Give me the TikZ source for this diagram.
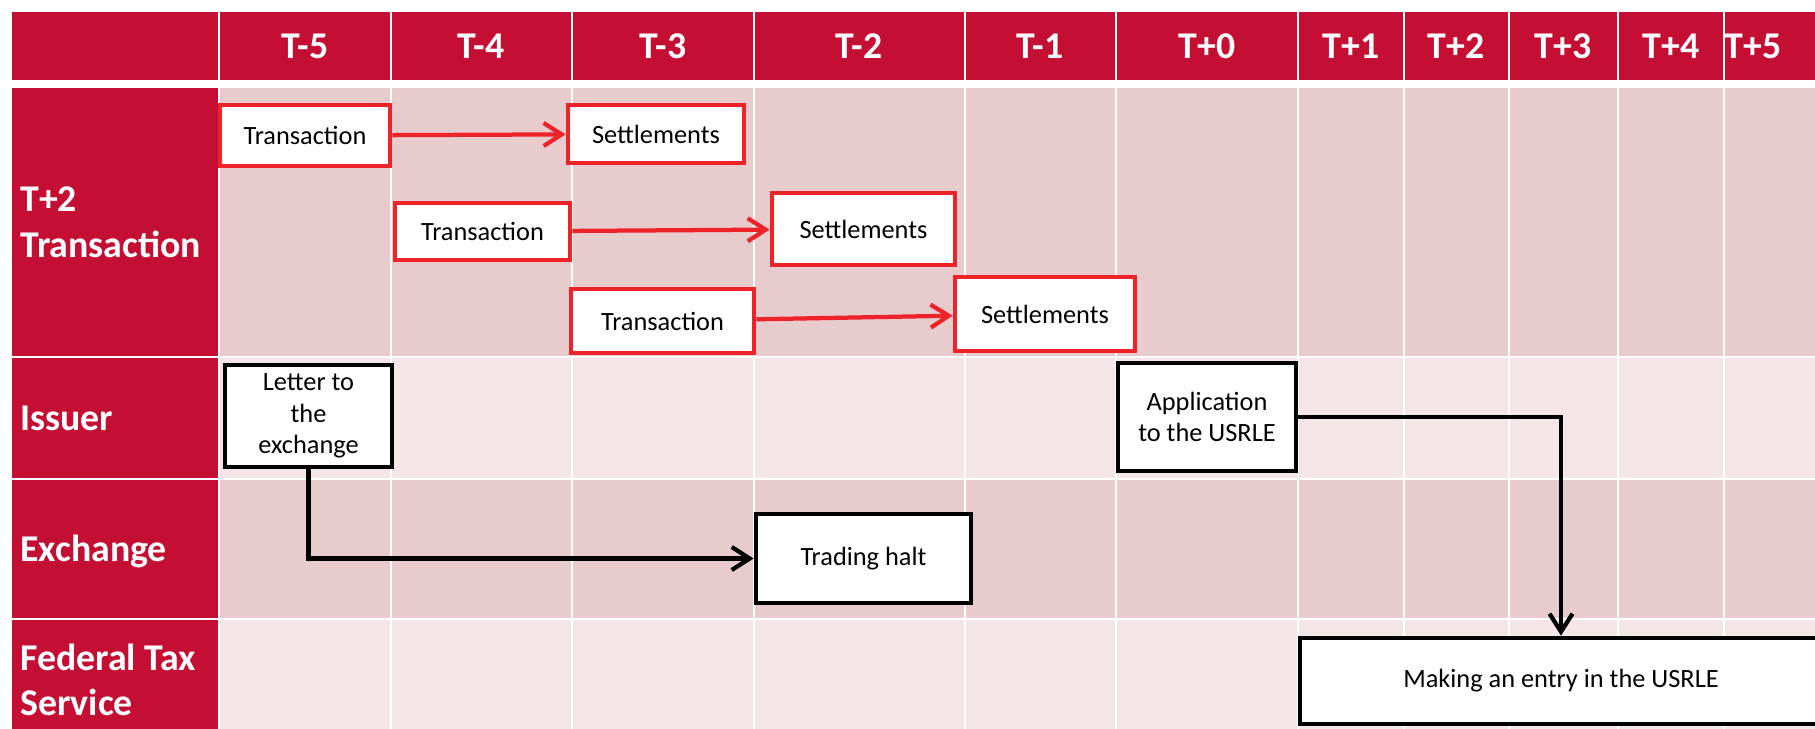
\documentclass[tikz,border=0pt]{standalone}
\usepackage{fontspec}
\setmainfont{Carlito}
\usetikzlibrary{arrows.meta}

\definecolor{hdrred}{HTML}{C40E33}
\definecolor{cellA}{HTML}{E8CBCD}
\definecolor{cellB}{HTML}{F4E6E7}
\definecolor{boxred}{HTML}{EE2229}

\begin{document}
\begin{tikzpicture}[x=0.02cm,y=-0.02cm,
	hdr/.style={text=white,font=\bfseries\fontsize{21.5}{26}\selectfont},
	rowlab/.style={hdr,anchor=west,align=left,inner sep=0pt},
	redbox/.style={draw=boxred,fill=white,line width=0.095cm,inner sep=0pt,align=center,font=\fontsize{15}{18}\selectfont},
	blkbox/.style={redbox,draw=black},
	redarr/.style={draw=boxred,line width=0.085cm,-{Straight Barb[length=0.36cm,width=0.46cm]}},
	blkarr/.style={redarr,draw=black}]
	%frame
	\useasboundingbox (0,0) rectangle (1815,728);
	\clip (0,0) rectangle (1815,728);
	\fill[white] (0,0) rectangle (1815,728);

	%header
	\fill[hdrred] (12,12) rectangle (218,80);
	\foreach \xl/\xr/\xm/\lab [count=\i] in {220/390/305/T-5,392/571/481/T-4,573/753/663/T-3,755/964/859/T-2,966/1115/1040/T-1,1117/1297/1207/T+0,1299/1403/1351/T+1,1405/1508/1456/T+2,1510/1617/1563/T+3,1619/1723/1671/T+4,1725/1840/1753/T+5}
	{
		\fill[hdrred] (\xl,12) rectangle (\xr,80);
		\node[hdr] (col\i) at (\xm,46) {\lab};
	}

	%rows
	\foreach \yt/\yb/\cl in {88/356/cellA,358/478/cellB,480/618/cellA,620/760/cellB}
	{
		\fill[hdrred] (12,\yt) rectangle (218,\yb);
		\foreach \xl/\xr in {220/390,392/571,573/753,755/964,966/1115,1117/1297,1299/1403,1405/1508,1510/1617,1619/1723,1725/1840}
			\fill[\cl] (\xl,\yt) rectangle (\xr,\yb);
	}

	%row labels
	\node[rowlab] (labtr) at (20,222) {T+2\\Transaction};
	\node[rowlab] (labis) at (20,418) {Issuer};
	\node[rowlab] (labex) at (20,551) {Exchange};
	\node[rowlab] (labft) at (20,680) {Federal Tax\\Service};

	%T+2 transactions
	\node[redbox,minimum width=3.40cm,minimum height=1.22cm] (tr1) at (305,135.5) {Transaction};
	\node[redbox,minimum width=3.52cm,minimum height=1.16cm] (st1) at (656,134) {Settlements};
	\node[redbox,minimum width=3.50cm,minimum height=1.14cm] (tr2) at (482.5,231.5) {Transaction};
	\node[redbox,minimum width=3.66cm,minimum height=1.44cm] (st2) at (863.5,229) {Settlements};
	\node[redbox,minimum width=3.66cm,minimum height=1.28cm] (tr3) at (662.5,321) {Transaction};
	\node[redbox,minimum width=3.60cm,minimum height=1.48cm] (st3) at (1045,314) {Settlements};

	%issuer, exchange, tax service
	\node[blkbox,minimum width=3.34cm,minimum height=2.04cm] (letter) at (308.5,416) {Letter to\\the\\exchange};
	\node[blkbox,minimum width=4.30cm,minimum height=1.78cm] (halt) at (863.5,558.5) {Trading halt};
	\node[blkbox,minimum width=3.56cm,minimum height=2.16cm] (appl) at (1207,417) {Application\\to the USRLE};
	\node[blkbox,minimum width=10.44cm,minimum height=1.72cm] (entry) at (1561,681) {Making an entry in the USRLE};

	%arrows
	\draw[redarr] (tr1) -- (st1);
	\draw[redarr] (tr2) -- (st2);
	\draw[redarr] (tr3) -- (st3);
	\draw[blkarr] (letter) |- (halt);
	\draw[blkarr] (appl) -| (entry);
\end{tikzpicture}
\end{document}
